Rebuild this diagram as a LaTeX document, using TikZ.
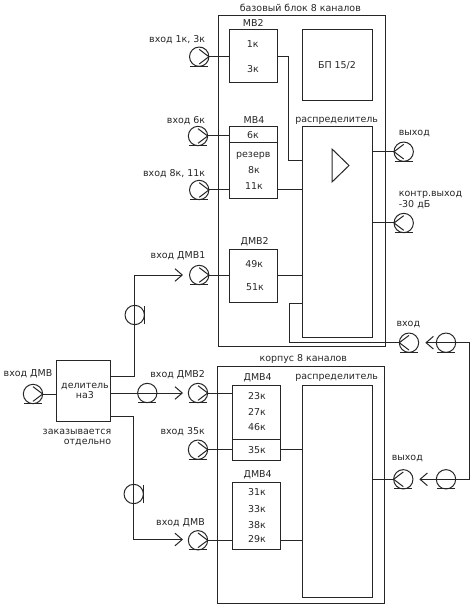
\documentclass[tikz,border=0pt]{standalone}
\usepackage{fontspec}
\setmainfont{DejaVu Sans}
\usetikzlibrary{arrows.meta}
\tikzset{
	box/.style 2 args={draw, inner sep=0pt, outer sep=0pt, minimum width=#1*0.75pt, minimum height=#2*0.75pt},
	lbl/.style={inner sep=0pt, text height=4.7pt, text depth=0.4pt},
	jack/.style={circle, draw, inner sep=0pt, outer sep=0pt, minimum size=14.5pt,
		append after command={([xshift=-6.8pt]\tikzlastnode.south) edge[line width=0.75pt] ([xshift=6.8pt]\tikzlastnode.south)}},
	jackr/.style={jack,
		append after command={([yshift=5.5pt]\tikzlastnode.center) edge (\tikzlastnode.east) ([yshift=-5.5pt]\tikzlastnode.center) edge (\tikzlastnode.east)}},
	jackl/.style={jack,
		append after command={([yshift=5.5pt]\tikzlastnode.center) edge (\tikzlastnode.west) ([yshift=-5.5pt]\tikzlastnode.center) edge (\tikzlastnode.west)}},
	jackv/.style={circle, draw, inner sep=0pt, outer sep=0pt, minimum size=14.5pt,
		append after command={([yshift=-7pt,xshift=7pt]\tikzlastnode.center) edge ([yshift=7pt,xshift=7pt]\tikzlastnode.center)}},
	cable/.style={-{Straight Barb[length=5.5pt, width=9.5pt]}},
}
\begin{document}
\begin{tikzpicture}[x=0.75pt, y=-0.75pt, line width=0.75pt, draw=black!85, text=black!85, font=\fontsize{7.1}{8}\selectfont]
	\useasboundingbox (0,0) rectangle (473,609);

	% Base unit
	\node[box={167}{330}] (base) at (302,181) {};
	\node[lbl] (basetitle) at (300.3,9) {базовый блок 8 каналов};
	\node[box={48.4}{53}] (mv2) at (253.5,56.5) {};
	\node[lbl] (mv2title) at (253.3,24) {МВ2};
	\node[lbl] (ch1) at (252.7,44.3) {1к};
	\node[lbl] (ch3) at (253,69.7) {3к};
	\node[box={70}{71}, lbl] (psu) at (337,65.5) {БП 15/2};
	\node[box={48.4}{72}] (mv4) at (253.5,163) {};
	\node[lbl] (mv4title) at (254,120.7) {МВ4};
	\draw (mv4.west |- 0,143) -- (mv4.east |- 0,143);
	\node[lbl] (ch6) at (253,136) {6к};
	\node[lbl] (spare) at (253.3,155) {резерв};
	\node[lbl] (ch8) at (254,171) {8к};
	\node[lbl] (ch11) at (254,186.7) {11к};
	\node[box={48.4}{53}] (dmv2) at (253.5,275.8) {};
	\node[lbl] (dmv2title) at (254.7,241.3) {ДМВ2};
	\node[lbl] (ch49) at (254.3,264.7) {49к};
	\node[lbl] (ch51) at (255,287.7) {51к};
	\node[box={70}{210}] (dist1) at (337,232) {};
	\node[lbl] (dist1title) at (336.7,119.3) {распределитель};
	\draw (332,149) -- (349,165.5) -- (332,182) -- cycle;

	% Second unit
	\node[box={167}{237}] (case) at (300.8,484.8) {};
	\node[lbl] (casetitle) at (303.3,359) {корпус 8 каналов};
	\node[box={48.4}{75}] (dmv4a) at (256.5,422.8) {};
	\node[lbl] (dmv4atitle) at (257.7,378) {ДМВ4};
	\draw (dmv4a.west |- 0,439.3) -- (dmv4a.east |- 0,439.3);
	\node[lbl] (ch23) at (257,396.7) {23к};
	\node[lbl] (ch27) at (257,412.3) {27к};
	\node[lbl] (ch46) at (257,427.7) {46к};
	\node[lbl] (ch35) at (257,450.3) {35к};
	\node[box={48.4}{67}] (dmv4b) at (256.5,515.8) {};
	\node[lbl] (dmv4btitle) at (257.7,475) {ДМВ4};
	\node[lbl] (ch31) at (257,492.7) {31к};
	\node[lbl] (ch33) at (257,509.7) {33к};
	\node[lbl] (ch38) at (257,525.3) {38к};
	\node[lbl] (ch29) at (257,539.7) {29к};
	\node[box={70}{212}] (dist2) at (337.3,491.3) {};
	\node[lbl] (dist2title) at (336.7,376.3) {распределитель};

	% Splitter
	\node[box={54}{61}] (split) at (83,390.5) {};
	\node[lbl] (splittext) at (85,385.3) {делитель};
	\node[lbl] (splittext2) at (85,396) {на3};
	\node[lbl, anchor=east] (order) at (111.7,431.3) {заказывается};
	\node[lbl, anchor=east] (order2) at (111.7,442) {отдельно};

	% Sockets
	\node[jackr] (in1) at (199.2,56.7) {};
	\node[lbl, anchor=east] (in1text) at (205.7,40) {вход 1к, 3к};
	\node[jackr] (in6) at (198,136) {};
	\node[lbl, anchor=east] (in6text) at (205.7,121) {вход 6к};
	\node[jackr] (in8) at (199.2,190) {};
	\node[lbl, anchor=east] (in8text) at (205.7,174) {вход 8к, 11к};
	\node[jackr] (indmv1) at (199.2,275) {};
	\node[lbl] (indmv1text) at (178,256) {вход ДМВ1};
	\node[jackr] (indmv2) at (198,393) {};
	\node[lbl] (indmv2text) at (177.7,375) {вход ДМВ2};
	\node[jackr] (in35) at (198,449.7) {};
	\node[lbl, anchor=east] (in35text) at (205.3,431.7) {вход 35к};
	\node[jackr] (indmv) at (198,540.3) {};
	\node[lbl, anchor=east] (indmvtext) at (205.3,523) {вход ДМВ};
	\node[jackr] (insplit) at (33,394) {};
	\node[lbl] (insplittext) at (28,374) {вход ДМВ};
	\node[jackl] (out1) at (403.7,151.7) {};
	\node[lbl] (out1text) at (414.3,132.3) {выход};
	\node[jackl] (mon) at (403.7,223) {};
	\node[lbl, anchor=west] (montext) at (398.3,194) {контр.выход};
	\node[lbl, anchor=west] (montext2) at (398.3,204.7) {-30 дБ};
	\node[jackl] (link) at (409,342.7) {};
	\node[lbl] (linktext) at (408.3,323.3) {вход};
	\node[jackl] (out2) at (403.3,479.3) {};
	\node[lbl] (out2text) at (407.3,458) {выход};

	% Cable plugs
	\node[jack] (plugm) at (147.3,393) {};
	\node[jack] (plugt) at (446,342.7) {};
	\node[jack] (plugb) at (446,479.3) {};
	\node[jackv] (plugu) at (134.7,315) {};
	\node[jackv] (plugd) at (133.7,494) {};
	\coordinate (tipu) at (183,275);
	\coordinate (tipm) at (183,393);
	\coordinate (tipd) at (183,539.5);
	\coordinate (tipt) at (425.3,342.7);
	\coordinate (tipb) at (419.3,479.3);

	% Inputs of the base unit
	\draw (in1.east) -- (in1 -| mv2.west);
	\draw (in6.east) -- (in6 -| mv4.west);
	\draw (in8.east) -- (in8 -| mv4.west);
	\draw (indmv1.east) -- (indmv1 -| dmv2.west);
	\draw (mv2.east |- in1) -- (288,56.7) |- (dist1.west |- 0,161);
	\draw (mv4.east |- in8) -- (dist1.west |- in8);
	\draw (dmv2.east |- indmv1) -- (dist1.west |- indmv1);
	\draw (dist1.east |- out1) -- (out1.west);
	\draw (dist1.east |- mon) -- (mon.west);
	\draw (dist1.west |- 0,303.3) -- (289.7,303.3) |- (link.west);

	% Inputs of the second unit
	\draw (indmv2.east) -- (indmv2 -| dmv4a.west);
	\draw (in35.east) -- (in35 -| dmv4a.west);
	\draw (indmv.east) -- (indmv -| dmv4b.west);
	\draw (dmv4a.east |- in35) -- (dist2.west |- in35);
	\draw (dmv4b.east |- indmv) -- (dist2.west |- indmv);
	\draw (dist2.east |- out2) -- (out2.west);

	% Cables
	\draw (insplit.east) -- (insplit -| split.west);
	\draw[cable] (split.east |- 0,376) -| (plugu.center) -- (plugu.center |- tipu) -- (tipu);
	\draw[cable] (split.east |- tipm) -- (tipm);
	\draw[cable] (split.east |- 0,416) -| (plugd.center) -- (plugd.center |- tipd) -- (tipd);
	\draw[cable] (469.7,342.7) -- (tipt);
	\draw[cable] (469.7,479.3) -- (tipb);
	\draw (469.7,342.7) -- (469.7,479.3);
\end{tikzpicture}
\end{document}
